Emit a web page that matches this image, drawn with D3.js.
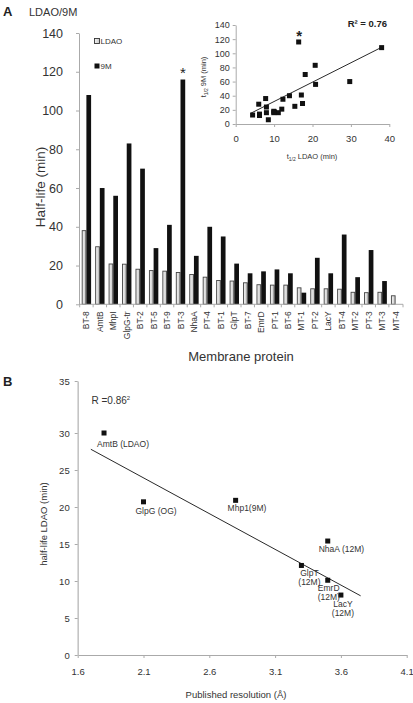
<!DOCTYPE html>
<html><head><meta charset="utf-8">
<script src="https://cdn.jsdelivr.net/npm/d3@7"></script>
<style>
body{margin:0;background:#fff;}
svg{display:block;font-family:"Liberation Sans",Arial,sans-serif;}
</style></head>
<body>
<svg id="chart" width="413" height="703"></svg>
<script>
// ---------- Panel A data ----------
const categories = ["BT-8","AmtB","MhpI","GlpG-tr","BT-2","BT-5","BT-9","BT-3","NhaA","PT-4","BT-1","GlpT","BT-7","EmrD","PT-1","BT-6","MT-1","PT-2","LacY","BT-4","MT-2","PT-3","MT-3","MT-4"];
const ldaoHalfLife = [38,29.7,20.8,20.7,18.1,17.4,17.1,16.4,15.4,14,12.3,12,11.1,10.1,9.9,9.9,8.5,8,8,7.8,6.2,6,6.2,4.4];
const nineMHalfLife = [108,60,56,83,70,29,41,116,25,40,35,21,16,17,18,16,6,24,16,36,14,28,12,null];
const seriesNames = ["LDAO","9M"];
const yTicksA = [0,20,40,60,80,100,120,140];
const starredCategory = "BT-3";

// inset scatter (t1/2 LDAO vs t1/2 9M)
const insetLDAO = [38,29.7,20.8,20.7,18.1,17.4,17.1,16.4,15.4,14,12.3,12,11.1,10.1,9.9,9.9,8.5,8,8,7.8,6.2,6,6.2,4.4];
const inset9M   = [108,60,56,83,70,29,41,116,25,40,35,21,16,17,18,16,6,24,16,36,14,28,12,12.7];
const insetFitX = [3.9,38.3];
const insetFitY = [15.1,109.3];
const insetXTicks = [0,10,20,30,40];
const insetYTicks = [0,20,40,60,80,100,120,140];

// ---------- Panel B data ----------
const resProteinLines = [["AmtB (LDAO)"],["GlpG (OG)"],["Mhp1(9M)"],["NhaA (12M)"],["GlpT","(12M)"],["EmrD","(12M)"],["LacY","(12M)"]];
const resolution = [1.8,2.1,2.8,3.5,3.3,3.5,3.6];
const halfLifeLDAO = [30,20.7,20.9,15.4,12.1,10.1,8.1];
const fitResX = [1.7,3.75];
const fitResY = [27.8,8.0];
const xTicksB = [1.6,2.1,2.6,3.1,3.6,4.1];
const yTicksB = [0,5,10,15,20,25,30,35];

// label layout (px offsets from marker, anchor)
const labelLayout = [
  {dx:-7,dy:12,anchor:"start"},
  {dx:-8,dy:10,anchor:"start"},
  {dx:-8,dy:9,anchor:"start"},
  {dx:-9,dy:9,anchor:"start"},
  {dx:8,dy:9,anchor:"middle"},
  {dx:1,dy:8.5,anchor:"middle"},
  {dx:2,dy:10,anchor:"middle"}
];

const svg = d3.select("#chart");
const txt = "#333";
const axisCol = "#aaa";

function styleAxis(g, fs){
  g.selectAll("path.domain").attr("stroke",axisCol);
  g.selectAll(".tick line").attr("stroke",axisCol);
  g.selectAll(".tick text").attr("fill",txt).attr("font-size",fs).attr("font-family","Liberation Sans, Arial, sans-serif");
}

// ================= PANEL A =================
svg.append("text").attr("x",3).attr("y",16).attr("font-weight","bold").attr("font-size",13).attr("fill","#222").text("A");
svg.append("text").attr("x",29).attr("y",15.5).attr("font-size",11).attr("fill",txt).text("LDAO/9M");

const yA = d3.scaleLinear().domain([0,140]).range([304.3,33]);
const xA = d3.scaleBand().domain(categories).range([79,403]).paddingInner(0.3).paddingOuter(0.2);
const xSub = d3.scaleBand().domain(seriesNames).range([0,xA.bandwidth()]);

const defs = svg.append("defs");
const grad = defs.append("linearGradient").attr("id","ldaoFill").attr("x1","0").attr("x2","1").attr("y1","0").attr("y2","0");
grad.append("stop").attr("offset","0").attr("stop-color","#f4f4f4");
grad.append("stop").attr("offset","1").attr("stop-color","#c8c8c8");

const barData = categories.map((c,i)=>({c, ldao:ldaoHalfLife[i], nm:nineMHalfLife[i]}));

svg.append("g").selectAll("rect.ldao").data(barData).join("rect")
  .attr("x",d=>xA(d.c)+xSub("LDAO")+0.5)
  .attr("y",d=>yA(d.ldao))
  .attr("width",xSub.bandwidth()-1)
  .attr("height",d=>yA(0)-yA(d.ldao))
  .attr("fill","url(#ldaoFill)").attr("stroke","#444").attr("stroke-width",0.9);

svg.append("g").selectAll("rect.nm").data(barData.filter(d=>d.nm!=null)).join("rect")
  .attr("x",d=>xA(d.c)+xSub("9M"))
  .attr("y",d=>yA(d.nm))
  .attr("width",xSub.bandwidth())
  .attr("height",d=>yA(0)-yA(d.nm))
  .attr("fill","#111");

// asterisk
{
  const i = categories.indexOf(starredCategory);
  svg.append("text").attr("x",xA(starredCategory)+xSub("9M")+xSub.bandwidth()/2).attr("y",yA(nineMHalfLife[i])-2)
    .attr("text-anchor","middle").attr("font-size",15).attr("fill","#222").text("*");
}

// y axis A
const gyA = svg.append("g").attr("transform","translate(79,0)")
  .call(d3.axisLeft(yA).tickValues(yTicksA).tickSize(3).tickPadding(13).tickSizeOuter(0));
styleAxis(gyA,12.5);

// x axis A
const gxA = svg.append("g").attr("transform",`translate(0,${yA(0)})`);
gxA.append("line").attr("x1",79).attr("x2",403).attr("stroke",axisCol);
const stepA = xA.step();
const boundaries = categories.map(c=>xA(c)-(stepA-xA.bandwidth())/2).concat([403]);
gxA.selectAll("line.tk").data(boundaries).join("line").attr("class","tk")
  .attr("x1",d=>d).attr("x2",d=>d).attr("y1",0).attr("y2",3).attr("stroke",axisCol);
gxA.selectAll("text").data(categories).join("text")
  .attr("transform",d=>`translate(${xA(d)+xA.bandwidth()/2+3},7) rotate(-90)`)
  .attr("text-anchor","end").attr("font-size",8.5).attr("fill",txt).text(d=>d);

svg.append("text").attr("transform","translate(40,187) rotate(-90)").attr("text-anchor","middle")
  .attr("dominant-baseline","central").attr("font-size",13.5).attr("fill",txt).text("Half-life (min)");
svg.append("text").attr("x",241).attr("y",361).attr("text-anchor","middle").attr("font-size",13).attr("fill",txt).text("Membrane protein");

// legend
const legY = [38.5,63.5];
svg.append("rect").attr("x",94.5).attr("y",legY[0]).attr("width",5).attr("height",5).attr("fill","url(#ldaoFill)").attr("stroke","#333").attr("stroke-width",0.9);
svg.append("text").attr("x",100.5).attr("y",legY[0]+5).attr("font-size",8).attr("fill",txt).text(seriesNames[0]);
svg.append("rect").attr("x",94.5).attr("y",legY[1]).attr("width",5).attr("height",5).attr("fill","#111");
svg.append("text").attr("x",100.5).attr("y",legY[1]+5).attr("font-size",8).attr("fill",txt).text(seriesNames[1]);

// ---- inset ----
const xI = d3.scaleLinear().domain([0,40]).range([235.7,389.3]);
const yI = d3.scaleLinear().domain([0,140]).range([124,25]);
const gxI = svg.append("g").attr("transform","translate(0,124)")
  .call(d3.axisBottom(xI).tickValues(insetXTicks).tickSize(3).tickPadding(8).tickSizeOuter(0));
styleAxis(gxI,9.5);
const gyI = svg.append("g").attr("transform","translate(235.7,0)")
  .call(d3.axisLeft(yI).tickValues(insetYTicks).tickSize(3).tickPadding(3).tickSizeOuter(0));
styleAxis(gyI,9);
svg.append("line").attr("x1",xI(insetFitX[0])).attr("y1",yI(insetFitY[0])).attr("x2",xI(insetFitX[1])).attr("y2",yI(insetFitY[1]))
  .attr("stroke","#111").attr("stroke-width",0.9);
svg.append("g").selectAll("rect").data(insetLDAO.map((v,i)=>[v,inset9M[i]])).join("rect")
  .attr("x",d=>xI(d[0])-2.5).attr("y",d=>yI(d[1])-2.5).attr("width",5).attr("height",5).attr("fill","#111");
svg.append("text").attr("x",xI(16.5)).attr("y",yI(116.5)-1).attr("text-anchor","middle").attr("font-size",15).attr("font-weight","bold").attr("fill","#222").text("*");
svg.append("text").attr("x",387).attr("y",27).attr("text-anchor","end").attr("font-size",9.5).attr("font-weight","bold").attr("fill","#222").text("R² = 0.76");
{
  const t = svg.append("text").attr("transform","translate(206,77) rotate(-90)").attr("text-anchor","middle").attr("font-size",7.5).attr("fill",txt);
  t.append("tspan").text("t");
  t.append("tspan").attr("font-size",5).attr("dy",1.5).text("1/2");
  t.append("tspan").attr("dy",-1.5).text(" 9M (min)");
  const t2 = svg.append("text").attr("x",312).attr("y",159).attr("text-anchor","middle").attr("font-size",7.5).attr("fill",txt);
  t2.append("tspan").text("t");
  t2.append("tspan").attr("font-size",5).attr("dy",1.5).text("1/2");
  t2.append("tspan").attr("dy",-1.5).text(" LDAO (min)");
}

// ================= PANEL B =================
svg.append("text").attr("x",3).attr("y",386).attr("font-weight","bold").attr("font-size",13).attr("fill","#222").text("B");

const xB = d3.scaleLinear().domain([1.6,4.1]).range([77.7,406.7]);
const yB = d3.scaleLinear().domain([0,30,35]).range([655,433,381]);

const gxB = svg.append("g").attr("transform","translate(0,655)")
  .call(d3.axisBottom(xB).tickValues(xTicksB).tickFormat(d3.format(".1f")).tickSize(3).tickPadding(10).tickSizeOuter(0));
styleAxis(gxB,9.5);
const gyB = svg.append("g").attr("transform","translate(77.7,0)")
  .call(d3.axisLeft(yB).tickValues(yTicksB).tickSize(3).tickPadding(5).tickSizeOuter(0));
styleAxis(gyB,9.5);
gyB.select("path.domain").attr("stroke","#c4c4c4").attr("stroke-width",1.6);

svg.append("line").attr("x1",xB(fitResX[0])).attr("y1",yB(fitResY[0])).attr("x2",xB(fitResX[1])).attr("y2",yB(fitResY[1]))
  .attr("stroke","#111").attr("stroke-width",0.9);

const ptsB = resolution.map((r,i)=>({r, h:halfLifeLDAO[i], lines:resProteinLines[i], lay:labelLayout[i]}));
svg.append("g").selectAll("rect").data(ptsB).join("rect")
  .attr("x",d=>xB(d.r)-2.5).attr("y",d=>yB(d.h)-2.5).attr("width",5).attr("height",5).attr("fill","#111");
const lbl = svg.append("g").selectAll("text").data(ptsB).join("text")
  .attr("font-size",8.5).attr("fill",txt).attr("text-anchor",d=>d.lay.anchor)
  .attr("dominant-baseline","middle");
lbl.each(function(d){
  const t = d3.select(this);
  d.lines.forEach((s,k)=>{
    t.append("tspan").attr("x",xB(d.r)+d.lay.dx).attr("y",yB(d.h)+d.lay.dy+k*9).text(s);
  });
});

{
  const t = svg.append("text").attr("x",91.5).attr("y",404).attr("font-size",10).attr("fill",txt);
  t.append("tspan").text("R =0.86");
  t.append("tspan").attr("font-size",6).attr("dy",-4).text("2");
}

svg.append("text").attr("transform","translate(43,524) rotate(-90)").attr("text-anchor","middle")
  .attr("dominant-baseline","central").attr("font-size",9.5).attr("fill",txt).text("half-life LDAO (min)");
svg.append("text").attr("x",236).attr("y",698).attr("text-anchor","middle").attr("font-size",9.5).attr("fill",txt).text("Published resolution (Å)");
</script>
</body></html>
